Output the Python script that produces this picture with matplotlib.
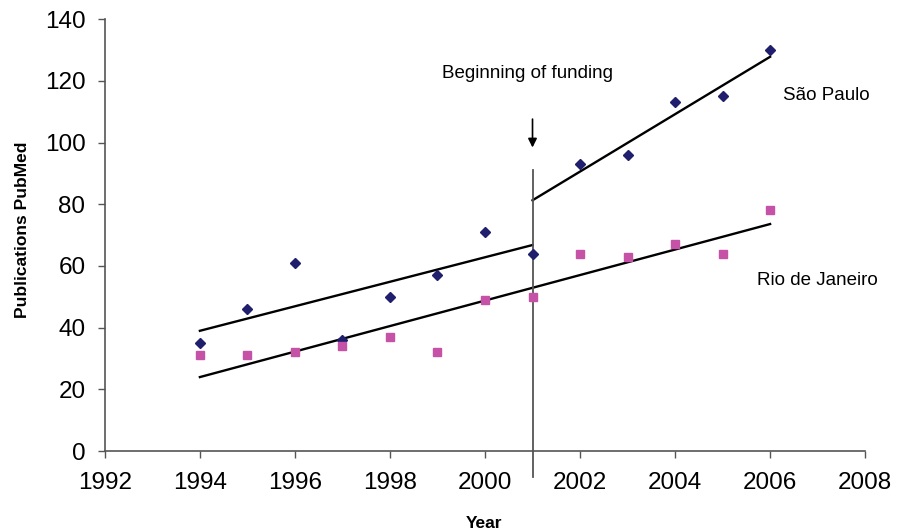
import matplotlib
matplotlib.use("Agg")
import matplotlib.pyplot as plt
import numpy as np

plt.rcParams['font.family'] = ['Liberation Sans', 'DejaVu Sans']

years = np.arange(1994, 2007)
sao_paulo = [35, 46, 61, 36, 50, 57, 71, 64, 93, 96, 113, 115, 130]
rio = [31, 31, 32, 34, 37, 32, 49, 50, 64, 63, 67, 64, 78]

# trend lines (start/end values)
sp_pre_years = [1994, 2001]
sp_pre_trend = [39, 66.8]
sp_post_years = [2001, 2006]
sp_post_trend = [81.3, 127.8]
rio_trend_years = [1994, 2006]
rio_trend = [24, 73.6]

funding_year = 2001

fig = plt.figure(figsize=(9.04, 5.32), dpi=100)
ax = fig.add_axes([0.116, 0.152, 0.841, 0.812])

ax.plot(years, sao_paulo, 'D', color='#1f1f6e', markersize=5.2, zorder=3)
ax.plot(years, rio, 's', color='#c652a8', markersize=5.5, zorder=3)

ax.plot(sp_pre_years, sp_pre_trend, color='black', lw=1.7)
ax.plot(sp_post_years, sp_post_trend, color='black', lw=1.7)
ax.plot(rio_trend_years, rio_trend, color='black', lw=1.7)

# vertical line marking the start of funding
ax.plot([funding_year, funding_year], [-8.5, 91], color='#555555', lw=1.3,
        clip_on=False, zorder=2)
ax.annotate('', xy=(funding_year, 97.5), xytext=(funding_year, 108.5),
            arrowprops=dict(arrowstyle='-|>', color='black', lw=1.2,
                            mutation_scale=13))

ax.text(2000.9, 122.5, 'Beginning of funding', ha='center', va='center',
        fontsize=13.5)
ax.text(2007.18, 115.4, 'São Paulo', ha='center', va='center', fontsize=13.5)
ax.text(2007.0, 55.4, 'Rio de Janeiro', ha='center', va='center', fontsize=13.5)

ax.set_xlim(1992, 2008)
ax.set_ylim(0, 140)
ax.set_xticks(np.arange(1992, 2009, 2))
ax.set_yticks(np.arange(0, 141, 20))
ax.tick_params(labelsize=17.5, direction='out', length=5, color='#555555', width=1)
ax.tick_params(axis='x', pad=10)
ax.tick_params(axis='y', pad=9)
for s in ['top', 'right']:
    ax.spines[s].set_visible(False)
for s in ['left', 'bottom']:
    ax.spines[s].set_color('#555555')
    ax.spines[s].set_linewidth(1.2)

ax.set_xlabel('Year', fontsize=12.5, fontweight='bold', va='center')
ax.set_ylabel('Publications PubMed', fontsize=12.5, fontweight='bold', va='center')
ax.xaxis.set_label_coords(0.499, -0.168)
ax.yaxis.set_label_coords(-0.108, 0.512)

fig.savefig('out.png', dpi=100)
